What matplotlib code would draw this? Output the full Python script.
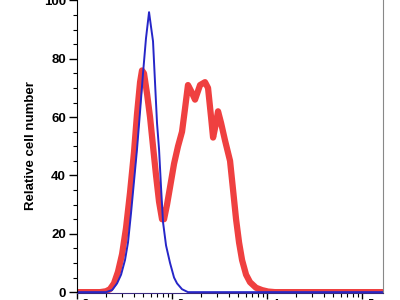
import matplotlib
matplotlib.use('Agg')
import matplotlib.pyplot as plt
from matplotlib.ticker import LogLocator, MultipleLocator, NullFormatter, FixedLocator

plt.rcParams['font.family'] = ['Liberation Sans', 'DejaVu Sans']
plt.rcParams['font.weight'] = 'bold'

# blue histogram (control)
blue_x = [100, 202, 234, 264, 291, 320, 344, 370, 398, 428, 461, 495, 532, 573,
          601, 631, 662, 695, 730, 766, 804, 865, 953, 1050, 1129, 1274, 1472, 200000]
blue_y = [0, 0, 0.7, 3, 6, 11, 17, 27, 38, 49, 62, 75, 87, 96,
          91, 86, 72, 58, 49, 36, 24, 16, 10, 5, 3, 1, 0, 0]

# red histogram (stained)
red_x = [100, 175, 202, 222, 245, 270, 298, 328, 361, 398, 428, 461, 483, 507, 546,
         587, 631, 679, 730, 785, 824, 886, 953, 1050, 1156, 1274, 1371, 1472, 1585,
         1746, 1972, 2224, 2393, 2575, 2704, 2907, 3049, 3281, 3612, 4079, 4389, 4719,
         5075, 5458, 6012, 6622, 7656, 8851, 10250, 12130, 200000]
red_y = [0, 0, 0.3, 1, 3, 7, 13, 22, 34, 48, 61, 72, 76, 75, 68,
         60, 50, 40, 31, 25, 25, 30, 36, 44, 50, 55, 63, 71, 69,
         66, 71, 72, 70, 60, 53, 58, 62, 58, 52, 45, 35, 25,
         17, 11, 6, 3.4, 1.5, 0.7, 0.2, 0, 0]

y_ticks = [0, 20, 40, 60, 80, 100]
x_ticks = [1e2, 1e3, 1e4, 1e5]
x_labels = ['$\\mathbf{10^{2}}$', '$\\mathbf{10^{3}}$', '$\\mathbf{10^{4}}$', '$\\mathbf{10^{5}}$']

fig = plt.figure(figsize=(4, 3), dpi=100)
ax = fig.add_axes([0.1925, 0.0233, 0.765, 0.98])

ax.plot(red_x, red_y, color='#ef3535', linewidth=4.5, solid_joinstyle='round',
        solid_capstyle='round', alpha=0.95)
ax.plot(blue_x, blue_y, color='#2626c8', linewidth=1.4)

ax.set_xscale('log')
ax.set_xlim(100, 166000)
ax.set_ylim(-0.3, 100.5)

ax.set_yticks(y_ticks)
ax.yaxis.set_minor_locator(MultipleLocator(5))
ax.xaxis.set_major_locator(FixedLocator(x_ticks))
ax.set_xticklabels(x_labels)
ax.xaxis.set_minor_locator(LogLocator(base=10, subs=range(2, 10)))
ax.xaxis.set_minor_formatter(NullFormatter())

ax.tick_params(axis='y', which='major', length=6, width=1, pad=2, labelsize=9.5)
ax.tick_params(axis='y', which='minor', length=3, width=0.8)
ax.tick_params(axis='x', which='major', length=4, width=1, pad=0, labelsize=9.5)
ax.tick_params(axis='x', which='minor', length=3, width=0.8)

ax.spines['top'].set_visible(False)
ax.spines['right'].set_color('#888888')
ax.spines['right'].set_linewidth(0.8)
ax.spines['bottom'].set_color('#3a2a80')

ax.set_ylabel('Relative cell number', fontsize=9.5, fontweight='bold', labelpad=5)

fig.savefig('out.png', dpi=100)
